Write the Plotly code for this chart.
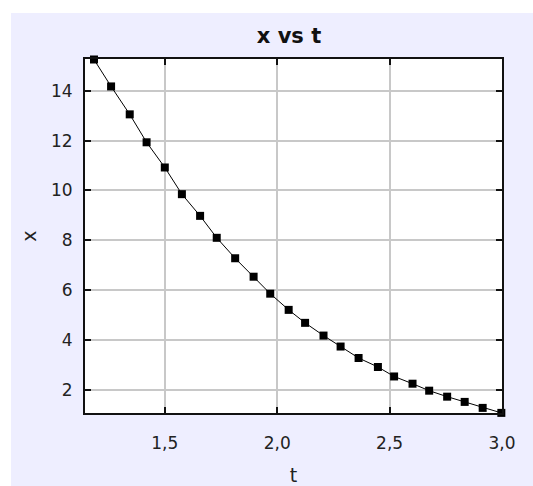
import plotly.graph_objects as go

t_values = [1.185, 1.261, 1.344, 1.419, 1.500, 1.576, 1.657, 1.731, 1.813, 1.895,
            1.969, 2.051, 2.124, 2.206, 2.282, 2.362, 2.448, 2.520, 2.602, 2.676,
            2.756, 2.834, 2.914, 2.997]
x_values = [15.25, 14.17, 13.05, 11.93, 10.92, 9.85, 8.98, 8.10, 7.28, 6.54,
            5.86, 5.21, 4.69, 4.18, 3.74, 3.28, 2.92, 2.54, 2.25, 1.97,
            1.73, 1.52, 1.28, 1.08]
t_ticks = [1.5, 2.0, 2.5, 3.0]
x_ticks = [2, 4, 6, 8, 10, 12, 14]

W, H = 533, 486
L, R, T, B = 85, 31, 59, 73

fig = go.Figure()
fig.add_trace(go.Scatter(
    x=t_values, y=x_values, mode="lines+markers",
    line=dict(color="black", width=1),
    marker=dict(symbol="square", size=8, color="black"),
    cliponaxis=False, showlegend=False,
))

axis_common = dict(
    showline=True, linecolor="#111111", linewidth=2, mirror="allticks",
    ticks="inside", ticklen=6, tickwidth=1.5, tickcolor="#111111",
    showgrid=True, gridcolor="#c8c8c8", gridwidth=1.5, zeroline=False,
    automargin=False,
    tickfont=dict(family="DejaVu Sans", size=17, color="#222222"),
)

fig.update_xaxes(range=[1.145, 3.0], tickvals=t_ticks, tickformat=".1f",
                 title=dict(text="t", font=dict(family="DejaVu Sans", size=19, color="#222222"), standoff=18),
                 ticklabelstandoff=14, **axis_common)
fig.update_yaxes(range=[1.075, 15.27], tickvals=x_ticks,
                 title=dict(text="x", font=dict(family="DejaVu Sans", size=19, color="#222222"), standoff=9),
                 ticklabelstandoff=7, **axis_common)

# white strips at top and left (outside the lavender panel)
px_x = lambda p: (p - L) / (W - L - R)
px_y = lambda p: (H - B - p) / (H - T - B)
fig.add_shape(type="rect", xref="paper", yref="paper",
              x0=px_x(0), x1=px_x(W), y0=px_y(13), y1=px_y(0),
              fillcolor="white", line_width=0, layer="below")
fig.add_shape(type="rect", xref="paper", yref="paper",
              x0=px_x(0), x1=px_x(11), y0=px_y(H), y1=px_y(0),
              fillcolor="white", line_width=0, layer="below")

fig.update_layout(
    width=W, height=H,
    margin=dict(l=L, r=R, t=T, b=B, pad=0, autoexpand=False),
    paper_bgcolor="#eeeeff", plot_bgcolor="white",
    separators=",.",
    title=dict(text="<b>x vs t</b>", x=289 / W, xanchor="center", xref="container",
               y=1 - 36 / H, yanchor="middle", yref="container",
               font=dict(family="DejaVu Sans", size=21, color="#111111")),
)

fig.write_html("out.html")
